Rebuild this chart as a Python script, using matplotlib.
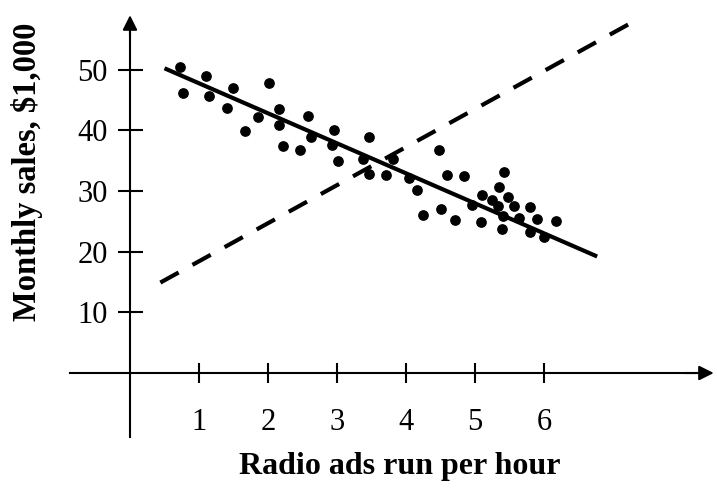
import matplotlib
matplotlib.use('Agg')
import matplotlib.pyplot as plt

plt.rcParams['font.family'] = ['Liberation Serif', 'DejaVu Serif']

# radio ads per hour vs monthly sales ($1,000)
ads = [0.72, 0.77, 1.10, 1.15, 1.49, 1.41, 2.01, 1.86, 1.66, 2.16, 2.16, 2.22,
       2.46, 2.58, 2.62, 2.95, 2.93, 3.01, 3.47, 3.38, 3.46, 3.71, 3.81, 4.05,
       4.16, 4.25, 4.48, 4.59, 4.84, 4.51, 4.71, 5.42, 5.35, 5.10, 5.25, 5.48,
       4.96, 5.34, 5.57, 5.79, 5.40, 5.64, 5.90, 6.18, 5.09, 5.39, 5.79, 6.00]
sales = [50.4, 46.1, 49.0, 45.7, 47.0, 43.6, 47.8, 42.1, 39.8, 43.5, 40.8, 37.4,
         36.7, 42.3, 38.9, 40.1, 37.6, 35.0, 38.9, 35.3, 32.8, 32.7, 35.3, 32.2,
         30.1, 26.1, 36.7, 32.7, 32.4, 27.1, 25.2, 33.1, 30.6, 29.4, 28.5, 29.0,
         27.7, 27.5, 27.5, 27.3, 25.9, 25.6, 25.3, 25.0, 24.9, 23.7, 23.3, 22.4]

# fitted (solid) and wrong (dashed) lines, end points
fit_x = [0.50, 6.77]
fit_y = [50.2, 19.2]
wrong_x = [0.44, 7.25]
wrong_y = [14.9, 57.6]

xticks = [1, 2, 3, 4, 5, 6]
yticks = [10, 20, 30, 40, 50]

fig = plt.figure(figsize=(7.17, 4.92), dpi=100)
ax = fig.add_axes([0, 0, 1, 1])
ax.set_xlim(-1.884, 8.507)
ax.set_ylim(-19.6, 61.45)

ax.scatter(ads, sales, s=45, color='black', zorder=3)
ax.plot(fit_x, fit_y, color='black', lw=3, solid_capstyle='butt')
ax.plot(wrong_x, wrong_y, color='black', lw=3, dashes=(5, 3.8), dash_capstyle='butt')

for side in ['top', 'right']:
    ax.spines[side].set_visible(False)
ax.spines['left'].set_position(('data', 0))
ax.spines['bottom'].set_position(('data', 0))
ax.spines['left'].set_bounds(-10.5, 58)
ax.spines['bottom'].set_bounds(-0.87, 8.3)
for side in ['left', 'bottom']:
    ax.spines[side].set_linewidth(1.5)

# arrow heads
ax.annotate('', xy=(0, 59.4), xytext=(0, 55), annotation_clip=False,
            arrowprops=dict(arrowstyle='-|>', color='black', lw=1.5, mutation_scale=22))
ax.annotate('', xy=(8.5, 0), xytext=(8.0, 0), annotation_clip=False,
            arrowprops=dict(arrowstyle='-|>', color='black', lw=1.5, mutation_scale=22))

ax.set_xticks(xticks)
ax.set_yticks(yticks)
ax.tick_params(axis='y', direction='inout', length=18, width=1.5, pad=7, labelsize=22)
ax.tick_params(axis='x', direction='inout', length=14, width=1.5, pad=18, labelsize=22)

ax.set_xlabel('Radio ads run per hour', fontsize=23, fontweight='bold')
ax.set_ylabel('Monthly sales, $1,000', fontsize=23.5, fontweight='bold')
ax.xaxis.set_label_coords(0.558, 0.051)
ax.yaxis.set_label_coords(0.038, 0.65)
ax.xaxis.label.set_va('center')
ax.yaxis.label.set_va('center')

fig.savefig('out.png', dpi=100)
